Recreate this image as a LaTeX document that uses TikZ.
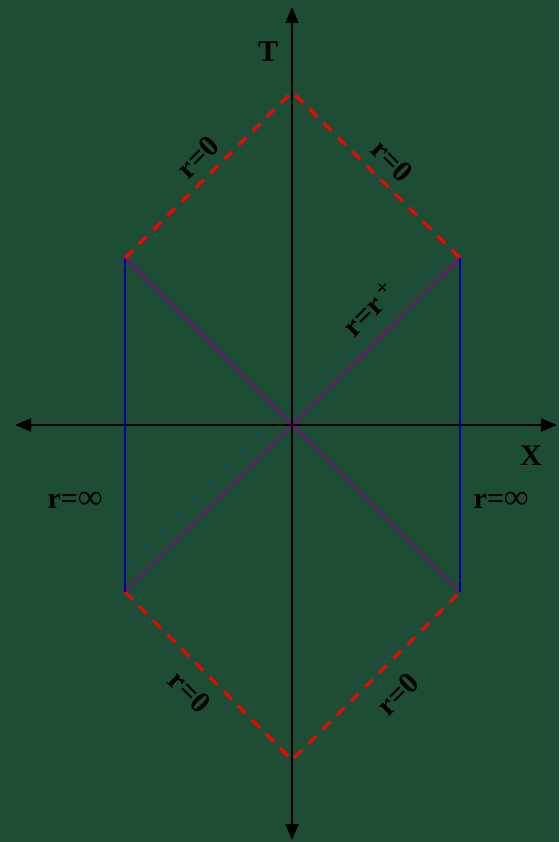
\documentclass[tikz,border=0pt]{standalone}
\usepackage{fontspec}
\setmainfont{Liberation Serif}
\usetikzlibrary{arrows.meta}
\definecolor{bg}{RGB}{30,77,53}
\definecolor{hred}{RGB}{255,0,0}
\definecolor{hblue}{RGB}{0,0,170}
\definecolor{hpurp}{RGB}{136,0,136}
\newcommand{\bigsym}[1]{{\fontsize{34}{34}\selectfont #1}}
\begin{document}
\begin{tikzpicture}[x=1pt,y=-1pt,
  axis/.style={line width=1.8pt,-{Triangle[length=16pt,width=13pt]}},
  sing/.style={hred,line width=3pt,dash pattern=on 11pt off 9pt},
  bdry/.style={hblue,line width=1.5pt},
  horiz/.style={hpurp,line width=1.5pt},
  lbl/.style={font=\bfseries\fontsize{30}{30}\selectfont,text=black,inner sep=0pt}]
\fill[bg] (0,0) rectangle (559,842);
\useasboundingbox (0,0) rectangle (559,842);
\coordinate (O) at (292,425);
\coordinate (Top) at (292,92);
\coordinate (Bot) at (292,760);
\coordinate (LU) at (125,258);
\coordinate (RU) at (460,258);
\coordinate (LD) at (125,592);
\coordinate (RD) at (460,592);
\coordinate (axT) at (292,7);
\coordinate (axB) at (292,840);
\coordinate (axL) at (15,425);
\coordinate (axR) at (557,425);
% horizons
\draw[horiz] (LU) -- (RD);
\draw[horiz] (RU) -- (LD);
% boundaries
\draw[bdry] (LU) -- (LD);
\draw[bdry] (RU) -- (RD);
% singularities
\draw[sing] (LU) -- (Top) -- (RU);
\draw[sing] (LD) -- (Bot) -- (RD);
% axes
\draw[axis] (O) -- (axT);
\draw[axis] (O) -- (axB);
\draw[axis] (O) -- (axL);
\draw[axis] (O) -- (axR);
% labels
\node[lbl] (T) at (268,52) {T};
\node[lbl] (X) at (531,456) {X};
\node[lbl] (li) at (75,500) {r=\bigsym{∞}};
\node[lbl] (ri) at (501,500) {r=\bigsym{∞}};
\node[lbl,rotate=45] (tl) at (198,157) {r=0};
\node[lbl,rotate=-45] (tr) at (392,161) {r=0};
\node[lbl,rotate=-45] (bl) at (190,692) {r=0};
\node[lbl,rotate=45] (br) at (398,694) {r=0};
\node[lbl,rotate=45] (rp) at (369,309) {r=r\hspace{5pt}\raisebox{9pt}{\fontsize{22}{22}\selectfont +}};
\end{tikzpicture}
\end{document}
